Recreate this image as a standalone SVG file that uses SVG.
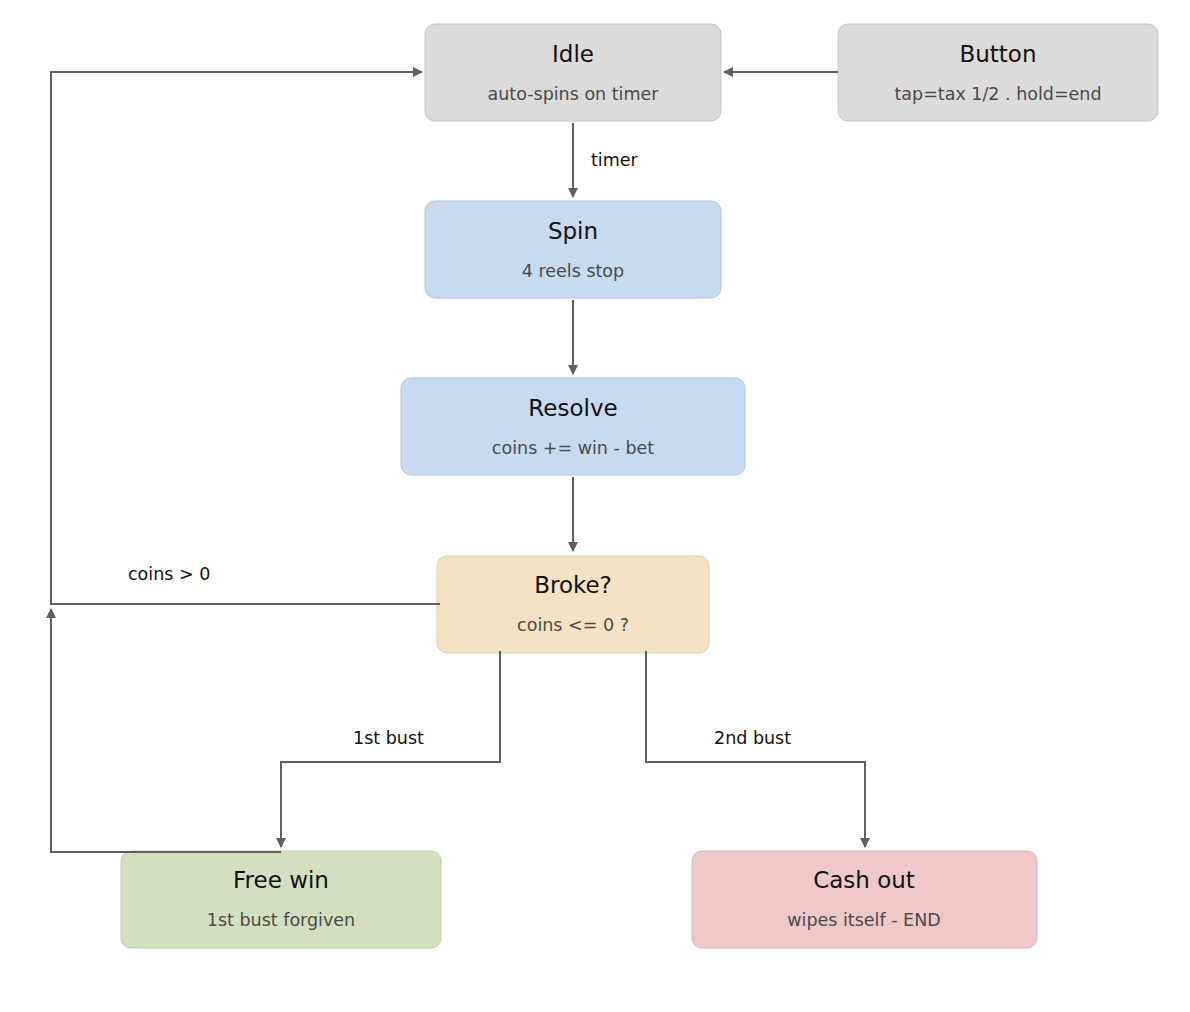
<svg xmlns="http://www.w3.org/2000/svg" width="1190" height="1012" viewBox="0 0 1190 1012">
<style>
.t{font-family:"DejaVu Sans",sans-serif;font-size:23px;fill:#111;text-anchor:middle}
.s{font-family:"DejaVu Sans",sans-serif;font-size:17.5px;fill:#4a4a4a;text-anchor:middle}
.l{font-family:"DejaVu Sans",sans-serif;font-size:17.5px;fill:#111}
.c{fill:none;stroke:#5f5f5f;stroke-width:2}
</style>
<defs><marker id="a" markerWidth="10" markerHeight="10" refX="9" refY="5" orient="auto" markerUnits="userSpaceOnUse"><path d="M0,0L10,5L0,10z" fill="#5f5f5f"/></marker></defs>
<rect width="1190" height="1012" fill="#fff"/>
<g id="idle"><rect x="425" y="24" width="296" height="97" rx="10" fill="#dcdbda" stroke="#c6c6c6"/><text class="t" x="573" y="62">Idle</text><text class="s" x="573" y="100">auto-spins on timer</text></g>
<g id="button"><rect x="838" y="24" width="320" height="97" rx="10" fill="#dcdbda" stroke="#c6c6c6"/><text class="t" x="998" y="62">Button</text><text class="s" x="998" y="100">tap=tax 1/2 . hold=end</text></g>
<g id="spin"><rect x="425" y="201" width="296" height="97" rx="10" fill="#c8daf0" stroke="#b3c3d8"/><text class="t" x="573" y="239">Spin</text><text class="s" x="573" y="277">4 reels stop</text></g>
<g id="resolve"><rect x="401" y="378" width="344" height="97" rx="10" fill="#c8daf0" stroke="#b3c3d8"/><text class="t" x="573" y="416">Resolve</text><text class="s" x="573" y="454">coins += win - bet</text></g>
<g id="broke"><rect x="437" y="556" width="272" height="97" rx="10" fill="#f5e2c2" stroke="#dcd0b8"/><text class="t" x="573" y="593">Broke?</text><text class="s" x="573" y="631">coins &lt;= 0 ?</text></g>
<g id="freewin"><rect x="121" y="851" width="320" height="97" rx="10" fill="#d3e0c0" stroke="#c0ccb0"/><text class="t" x="281" y="888">Free win</text><text class="s" x="281" y="926">1st bust forgiven</text></g>
<g id="cashout"><rect x="692" y="851" width="345" height="97" rx="10" fill="#f0c8c8" stroke="#d8b8b8"/><text class="t" x="864" y="888">Cash out</text><text class="s" x="864" y="926">wipes itself - END</text></g>
<g id="connectors">
<path class="c" d="M573,123V197" marker-end="url(#a)"/>
<path class="c" d="M573,300V374" marker-end="url(#a)"/>
<path class="c" d="M573,477V551" marker-end="url(#a)"/>
<path class="c" d="M838,72H724" marker-end="url(#a)"/>
<path class="c" d="M440,604H51V72H422" marker-end="url(#a)"/>
<path class="c" d="M281,852H51V609" marker-end="url(#a)"/>
<path class="c" d="M500,651V762H281V847" marker-end="url(#a)"/>
<path class="c" d="M646,651V762H865V847" marker-end="url(#a)"/>
<text class="l" x="591" y="166">timer</text>
<text class="l" x="128" y="580">coins &gt; 0</text>
<text class="l" x="353" y="744">1st bust</text>
<text class="l" x="714" y="744">2nd bust</text>
</g>
</svg>
